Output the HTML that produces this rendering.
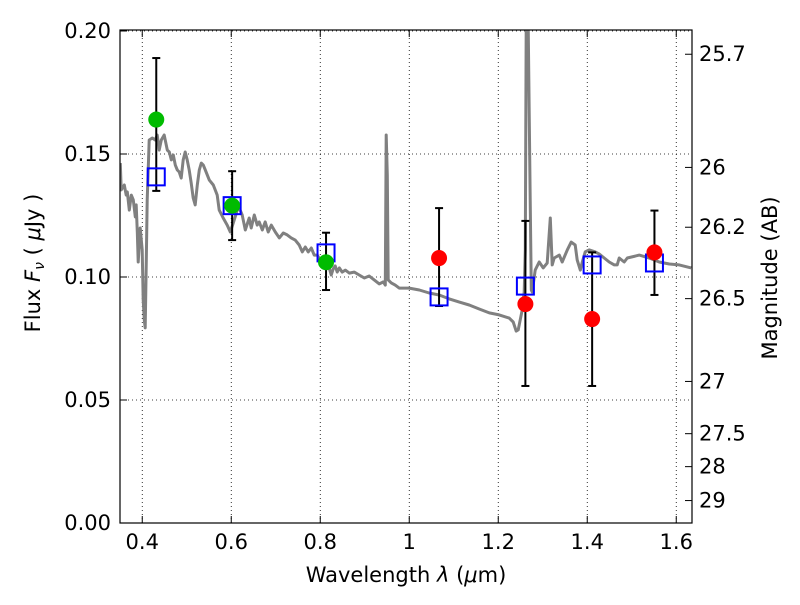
<!DOCTYPE html>
<html><head><meta charset="utf-8"><style>
body{margin:0;background:#fff}
svg text{font-family:"DejaVu Sans","Liberation Sans",sans-serif;fill:#000}
</style></head><body>
<svg id="chart" width="800" height="600" viewBox="0 0 800 600" xmlns="http://www.w3.org/2000/svg">
<defs><clipPath id="clip"><rect x="120" y="30" width="572" height="493"/></clipPath></defs>
<rect x="0" y="0" width="800" height="600" fill="#fff"/>
<g id="grid"></g>
<g id="spec" clip-path="url(#clip)"></g>
<g id="marks"></g>
<rect x="120" y="30" width="572" height="493" fill="none" stroke="#000" stroke-width="1.2"/>
<g id="axes"></g>
<text x="406" y="582" font-size="21" text-anchor="middle">Wavelength  <tspan font-style="italic">λ</tspan> (<tspan font-style="italic">μ</tspan>m)</text>
<text transform="translate(40,263) rotate(-90)" font-size="21" text-anchor="middle">Flux  <tspan font-style="italic">F</tspan><tspan font-style="italic" font-size="14" dy="4">ν</tspan><tspan dy="-4">  ( </tspan><tspan font-style="italic">μ</tspan>Jy )</text>
<text transform="translate(777,278) rotate(-90)" font-size="21" text-anchor="middle">Magnitude (AB)</text>
</svg>
<script>
const specLam=[0.3506,0.3528,0.3596,0.3640,0.3663,0.3708,0.3753,0.3798,0.3843,0.3865,0.3888,0.3910,0.3955,0.4000,0.4022,0.4045,0.4067,0.4090,0.4112,0.4157,0.4225,0.4292,0.4337,0.4382,0.4427,0.4494,0.4562,0.4607,0.4652,0.4697,0.4742,0.4787,0.4831,0.4876,0.4921,0.4966,0.5011,0.5056,0.5101,0.5146,0.5191,0.5236,0.5281,0.5326,0.5371,0.5416,0.5506,0.5596,0.5685,0.5730,0.5820,0.5910,0.5978,0.6045,0.6135,0.6180,0.6247,0.6315,0.6404,0.6449,0.6517,0.6584,0.6629,0.6697,0.6764,0.6831,0.6899,0.6989,0.7079,0.7169,0.7258,0.7348,0.7438,0.7528,0.7596,0.7663,0.7730,0.7798,0.7865,0.7933,0.8000,0.8067,0.8157,0.8202,0.8247,0.8292,0.8337,0.8382,0.8427,0.8494,0.8562,0.8652,0.8764,0.8876,0.8989,0.9101,0.9213,0.9326,0.9416,0.9461,0.9483,0.9506,0.9528,0.9596,0.9685,0.9775,1.0000,1.0225,1.0449,1.0674,1.0899,1.1124,1.1348,1.1573,1.1798,1.2022,1.2247,1.2337,1.2404,1.2449,1.2539,1.2584,1.2607,1.2629,1.2674,1.2719,1.2742,1.2764,1.2831,1.2921,1.3011,1.3101,1.3169,1.3213,1.3258,1.3371,1.3438,1.3551,1.3640,1.3730,1.3775,1.3843,1.3888,1.3955,1.4045,1.4180,1.4270,1.4382,1.4494,1.4607,1.4674,1.4719,1.4831,1.4899,1.5169,1.5393,1.5618,1.5843,1.6067,1.6337];
const specFlux=[0.1463,0.1354,0.1374,0.1333,0.1346,0.1272,0.1333,0.1313,0.1244,0.1293,0.1183,0.1061,0.1199,0.1110,0.0906,0.0825,0.0793,0.1069,0.1313,0.1557,0.1565,0.1557,0.1577,0.1516,0.1557,0.1577,0.1516,0.1508,0.1476,0.1496,0.1455,0.1435,0.1427,0.1402,0.1476,0.1508,0.1476,0.1435,0.1382,0.1321,0.1293,0.1374,0.1435,0.1463,0.1455,0.1435,0.1394,0.1374,0.1333,0.1272,0.1240,0.1211,0.1183,0.1220,0.1272,0.1280,0.1252,0.1191,0.1240,0.1199,0.1252,0.1211,0.1224,0.1191,0.1224,0.1183,0.1211,0.1183,0.1159,0.1179,0.1171,0.1159,0.1150,0.1130,0.1102,0.1122,0.1102,0.1118,0.1089,0.1089,0.1069,0.1061,0.1049,0.1037,0.1008,0.1033,0.1045,0.1020,0.1037,0.1020,0.1028,0.1016,0.1020,0.1008,0.0996,0.1004,0.0988,0.0972,0.0980,0.0967,0.1577,0.1415,0.0988,0.0976,0.0967,0.0955,0.0955,0.0947,0.0935,0.0927,0.0911,0.0898,0.0886,0.0870,0.0854,0.0846,0.0833,0.0817,0.0780,0.0785,0.0866,0.0939,0.1110,0.2024,0.2024,0.1313,0.0947,0.0939,0.1028,0.1061,0.1037,0.1057,0.1240,0.1049,0.1077,0.1089,0.1061,0.1110,0.1142,0.1130,0.1069,0.1028,0.1061,0.1102,0.1110,0.1102,0.1093,0.1077,0.1061,0.1049,0.1049,0.1077,0.1061,0.1077,0.1089,0.1077,0.1061,0.1053,0.1049,0.1037];
const obsLam=[0.4315,0.602,0.813,1.067,1.261,1.411,1.551];
const obsFlux=[0.164,0.129,0.106,0.1077,0.089,0.0829,0.110];
const obsErrHi=[0.189,0.143,0.118,0.128,0.1228,0.110,0.127];
const obsErrLo=[0.135,0.115,0.0947,0.0882,0.0557,0.0557,0.0927];
const obsColor=['#00bb00','#00bb00','#00bb00','#ff0000','#ff0000','#ff0000','#ff0000'];
const modelFlux=[0.1407,0.129,0.1098,0.0919,0.0963,0.1049,0.1057];
const xTicks=[0.4,0.6,0.8,1.0,1.2,1.4,1.6];
const xTickLabels=['0.4','0.6','0.8','1','1.2','1.4','1.6'];
const yTicks=[0,0.05,0.10,0.15,0.20];
const yTickLabels=['0.00','0.05','0.10','0.15','0.20'];
const magTicks=[25.7,26,26.2,26.5,27,27.5,28,29];
const magTickLabels=['25.7','26','26.2','26.5','27','27.5','28','29'];

const NS='http://www.w3.org/2000/svg';
const X0=120,X1=692,Y0=523,Y1=30,xmin=0.35,xmax=1.6354,ymin=0,ymax=0.2004;
const sx=v=>X0+(v-xmin)/(xmax-xmin)*(X1-X0);
const sy=v=>Y0-(v-ymin)/(ymax-ymin)*(Y0-Y1);
const magToFlux=m=>Math.pow(10,(23.9-m)/2.5);
function mk(tag,attrs,parent){const e=document.createElementNS(NS,tag);for(const k in attrs)e.setAttribute(k,attrs[k]);parent.appendChild(e);return e;}
const grid=document.getElementById('grid'),axes=document.getElementById('axes'),spec=document.getElementById('spec'),marks=document.getElementById('marks');
xTicks.forEach((t,i)=>{const x=sx(t);
 const g=mk('line',{x1:x,x2:x,y1:Y1,y2:Y0,stroke:'#000','stroke-width':0.8,'stroke-dasharray':'1,3'},grid);
 
 
 mk('line',{x1:x,x2:x,y1:Y0,y2:Y0-7,stroke:'#000'},axes);
 mk('line',{x1:x,x2:x,y1:Y1,y2:Y1+7,stroke:'#000'},axes);
 const tx=mk('text',{x:x,y:549,'font-size':21,'text-anchor':'middle'},axes);tx.textContent=xTickLabels[i];
 
 
});
yTicks.forEach((t,i)=>{const y=sy(t);
 const g=mk('line',{x1:X0,x2:X1,y1:y,y2:y,stroke:'#000','stroke-width':0.8,'stroke-dasharray':'1,3'},grid);
 
 
 mk('line',{x1:X0,x2:X0+7,y1:y,y2:y,stroke:'#000'},axes);
 const tx=mk('text',{x:111,y:y+7,'font-size':21,'text-anchor':'end'},axes);tx.textContent=yTickLabels[i];
 
 
});
magTicks.forEach((m,i)=>{const y=sy(magToFlux(m));
 mk('line',{x1:X1,x2:X1-7,y1:y,y2:y,stroke:'#000'},axes);
 const tx=mk('text',{x:699,y:y+7,'font-size':21},axes);tx.textContent=magTickLabels[i];
 
 
});
let d='';specLam.forEach((l,i)=>{d+=(i?'L':'M')+sx(l).toFixed(1)+' '+sy(specFlux[i]).toFixed(1);});
const p=mk('path',{d:d,fill:'none',stroke:'#808080','stroke-width':3,'stroke-linejoin':'round'},spec);


obsLam.forEach((l,i)=>{const x=sx(l);
 const e=mk('g',{},marks);
 
 
 mk('line',{x1:x,x2:x,y1:sy(obsErrHi[i]),y2:sy(obsErrLo[i]),stroke:'#000','stroke-width':2},e);
 mk('line',{x1:x-4,x2:x+4,y1:sy(obsErrHi[i]),y2:sy(obsErrHi[i]),stroke:'#000','stroke-width':2},e);
 mk('line',{x1:x-4,x2:x+4,y1:sy(obsErrLo[i]),y2:sy(obsErrLo[i]),stroke:'#000','stroke-width':2},e);
});
obsLam.forEach((l,i)=>{const x=sx(l);
 const r=mk('rect',{x:x-8.5,y:sy(modelFlux[i])-8.5,width:17,height:17,fill:'none',stroke:'#0000ff','stroke-width':2},marks);
 
 
});
obsLam.forEach((l,i)=>{
 const c=mk('circle',{cx:sx(l),cy:sy(obsFlux[i]),r:8,fill:obsColor[i]},marks);
 
 
});
</script>
</body></html>
